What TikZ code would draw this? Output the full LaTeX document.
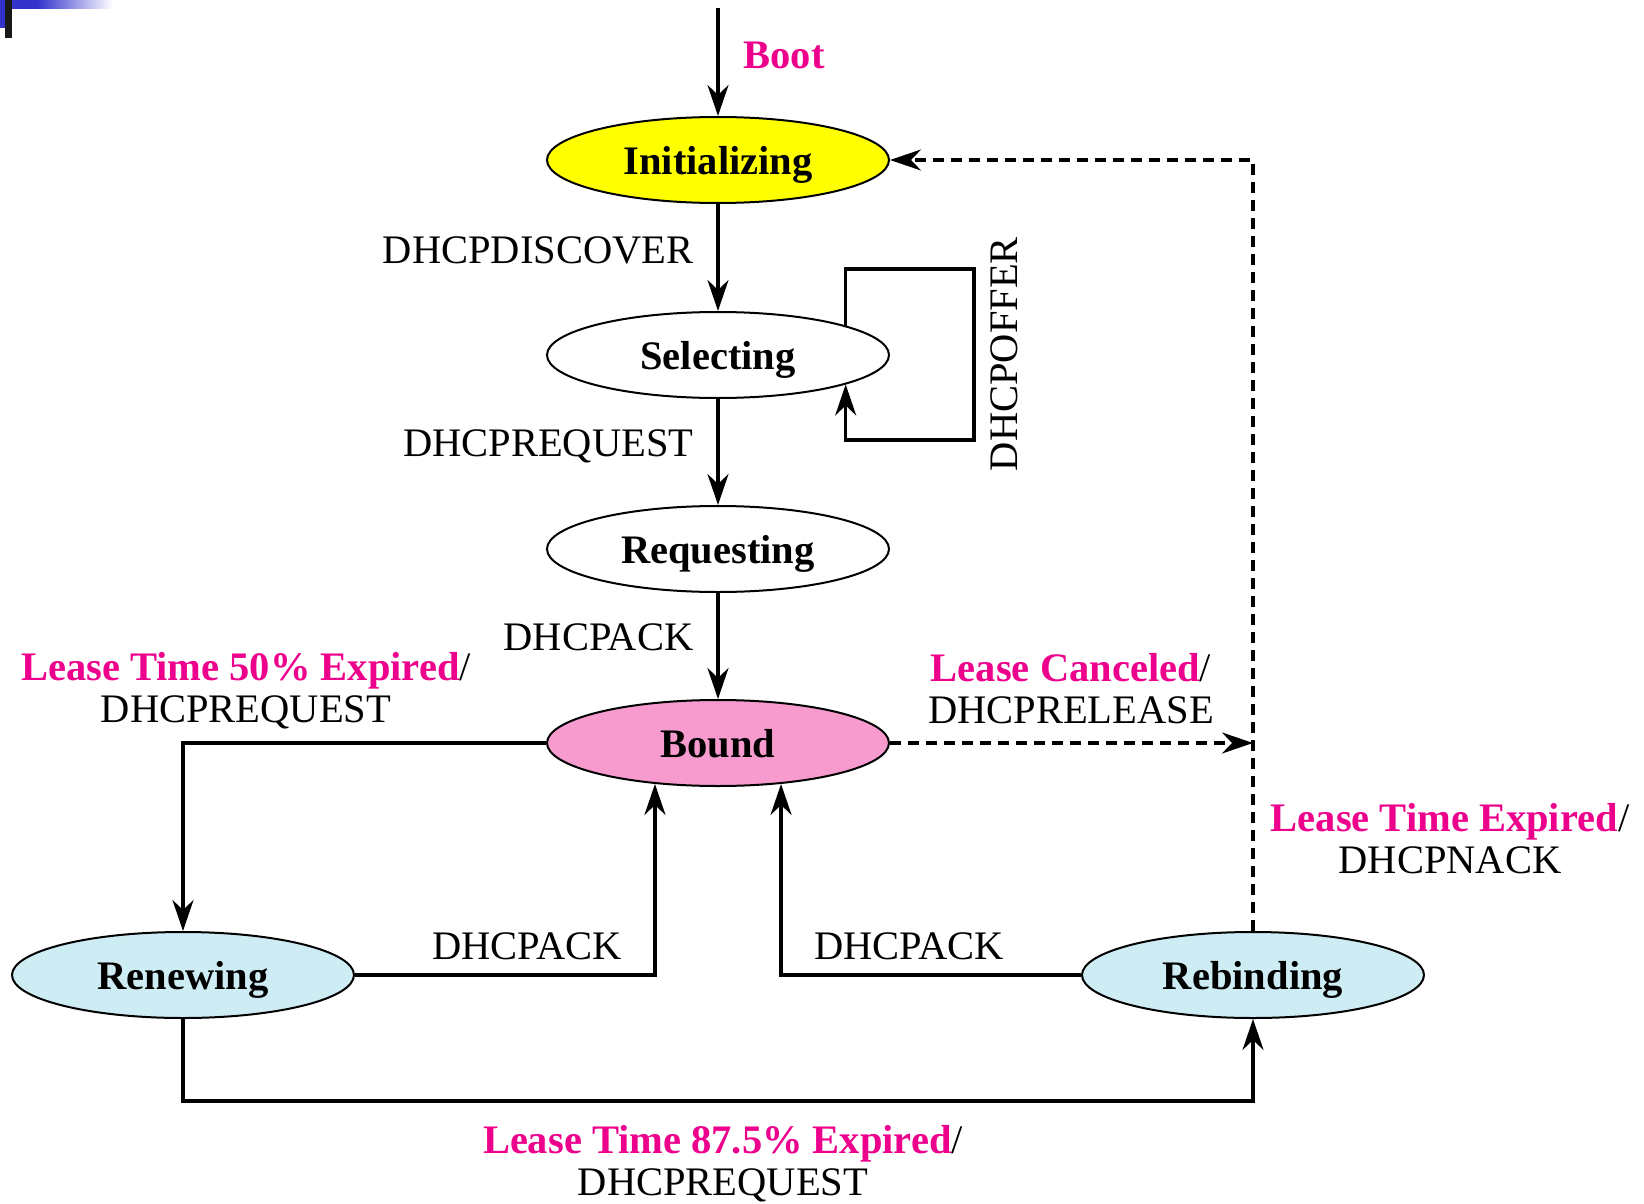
\documentclass[tikz,border=0pt]{standalone}
\usepackage{fontspec}
\setmainfont{Liberation Serif}
\usetikzlibrary{shapes.geometric,arrows.meta,calc}
\definecolor{hotpink}{RGB}{236,0,140}
\definecolor{inityellow}{RGB}{255,255,0}
\definecolor{boundpink}{RGB}{247,155,206}
\definecolor{renewblue}{RGB}{205,236,243}
\definecolor{barblue}{RGB}{51,51,204}
\tikzset{
  every node/.style={font=\fontsize{40.5}{42}\selectfont},
  state/.style={draw,ellipse,line width=2pt,minimum width=342pt,minimum height=86pt,inner sep=0pt,text depth=0pt,font=\fontsize{40.5}{42}\selectfont\bfseries},
  arr/.style={line width=3.3pt,-{Stealth[length=31pt,width=21pt,inset=10pt]}},
  dashline/.style={dash pattern=on 11pt off 7pt}
}
\newcommand{\ev}[1]{{\color{hotpink}\bfseries #1}/}
\begin{document}
\begin{tikzpicture}[x=1pt,y=-1pt]
%\draw[step=100,gray,very thin] (0,0) grid (1644,1204);
\useasboundingbox (0,0) rectangle (1644,1204);
\shade[left color=barblue,right color=white] (37,0) rectangle (113,9);
\fill[barblue] (0,0) rectangle (37,9);
\fill[barblue] (0,0) rectangle (5,28);
\fill[black!90] (5,0) rectangle (12,38);
\node[state,fill=inityellow] (init) at (718,160) {Initializing};
\node[state,fill=white] (sel) at (718,355) {Selecting};
\node[state,fill=white] (req) at (718,549) {Requesting};
\node[state,fill=boundpink] (bound) at (718,743) {Bound};
\node[state,fill=renewblue] (ren) at (183,975) {Renewing};
\node[state,fill=renewblue] (reb) at (1253,975) {Rebinding};
\coordinate (start) at (718,8);
\coordinate (offtop) at (974,269);
\coordinate (offbot) at (974,440);
\coordinate (relpt) at (1253,743);
\coordinate (botrow) at (718,1101);
\draw[arr] (start) -- (init.north);
\draw[arr] (init) -- (sel);
\draw[arr] (sel) -- (req);
\draw[arr] (req) -- (bound);
\draw[arr] (sel.13) |- (offtop) -- (offbot) -| (sel.-13);
\draw[arr] (bound.west) -| (ren.north);
\draw[arr] (ren.east) -| (bound.213);
\draw[arr] (reb.west) -| (bound.327);
\draw[arr] (ren.south) |- (botrow) -| (reb.south);
\draw[arr,dashline] (bound.east) -- (relpt);
\draw[arr,dashline] (reb.north) |- (init.east);
\node[anchor=west,text=hotpink,font=\fontsize{40.5}{42}\selectfont\bfseries] (boot) at (740,55) {Boot};
\node[anchor=east] (disc) at (697,250) {DHCPDISCOVER};
\node[anchor=east] (reqlbl) at (697,446) {DHCPREQUEST};
\node[anchor=east] (acklbl) at (697,637) {DHCPACK};
\node[rotate=90] (offer) at (1004,354) {DHCPOFFER};
\node (ackl) at (527,946) {DHCPACK};
\node (ackr) at (909,946) {DHCPACK};
\node[align=center] (half) at (246,691) {\ev{Lease Time 50\% Expired}\\DHCPREQUEST};
\node[align=center] (cancel) at (1071,689) {\ev{Lease Canceled}\\DHCPRELEASE};
\node[align=center] (expire) at (1450,839) {\ev{Lease Time Expired}\\DHCPNACK};
\node[align=center] (late) at (723,1164) {\ev{Lease Time 87.5\% Expired}\\DHCPREQUEST};
\end{tikzpicture}
\end{document}
